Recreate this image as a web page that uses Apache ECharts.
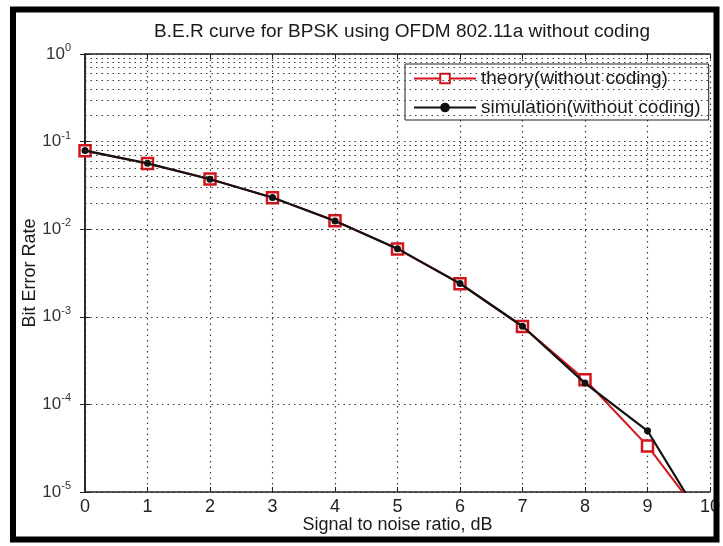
<!DOCTYPE html>
<html>
<head>
<meta charset="utf-8">
<script src="https://cdn.jsdelivr.net/npm/echarts@6/dist/echarts.min.js"></script>
<style>
html,body{margin:0;padding:0;background:#fff;}
#chart{width:723px;height:546px;}
</style>
</head>
<body>
<div id="chart"></div>
<script>
// ---- data ----
var snrDb = [0, 1, 2, 3, 4, 5, 6, 7, 8, 9, 10];
var berTheory = [0.0786, 0.0563, 0.0375, 0.0229, 0.0125, 0.00595, 0.00239, 0.000773, 0.000191, 0.0000336, 0.00000387];
var berSim    = [0.0790, 0.0565, 0.0372, 0.0230, 0.0124, 0.00600, 0.00240, 0.000780, 0.000175, 0.0000500, 0.0000034];
var xTickLabels = ['0','1','2','3','4','5','6','7','8','9','10'];
var yDecadeExponents = [0, -1, -2, -3, -4, -5];
var minorMultipliers = [2, 3, 4, 5, 6, 7, 8, 9];
var titleText = 'B.E.R curve for BPSK using OFDM 802.11a without coding';
var xName = 'Signal to noise ratio, dB';
var yName = 'Bit Error Rate';
var seriesNames = ['theory(without coding)', 'simulation(without coding)'];

// ---- derived ----
var theoryPts = snrDb.map(function (x, i) { return [x, berTheory[i]]; });
var simPts = snrDb.map(function (x, i) { return [x, berSim[i]]; });
var minorLines = [];
for (var d = 1; d < yDecadeExponents.length; d++) {
  var base = Math.pow(10, yDecadeExponents[d]);
  minorMultipliers.forEach(function (m) { minorLines.push({ yAxis: m * base }); });
}

var FONT = '"Liberation Sans", Arial, sans-serif';
var gridDot = { color: '#3a3a3a', width: 1.2, type: [1.5, 4] };

var chart = echarts.init(document.getElementById('chart'), null, { renderer: 'canvas' });
chart.setOption({
  backgroundColor: '#fff',
  animation: false,
  title: {
    text: titleText,
    left: 397, top: 17, textAlign: 'center',
    textStyle: { fontFamily: FONT, fontSize: 19, fontWeight: 'normal', color: '#1a1a1a' }
  },
  grid: { left: 85, right: 10, top: 54, bottom: 54 },
  legend: {
    data: seriesNames,
    orient: 'vertical',
    left: 405, top: 64,
    backgroundColor: '#fff',
    borderColor: '#222', borderWidth: 1,
    padding: [5, 8, 3, 8],
    itemWidth: 62, itemHeight: 12, itemGap: 10,
    textStyle: { fontFamily: FONT, fontSize: 19, color: '#1a1a1a' }
  },
  xAxis: [{
    type: 'value', min: 0, max: 10, interval: 1,
    name: xName, nameLocation: 'middle', nameGap: 24, nameMoveOverlap: false,
    nameTextStyle: { fontFamily: FONT, fontSize: 18, color: '#1a1a1a' },
    axisLine: { lineStyle: { color: '#222', width: 1.5 } },
    axisTick: { inside: true, length: 5, lineStyle: { color: '#222' } },
    axisLabel: { margin: 6, fontFamily: FONT, fontSize: 18, color: '#222',
      formatter: function (v) { return xTickLabels[Math.round(v)]; } },
    splitLine: { show: true, lineStyle: gridDot }
  }, {
    type: 'value', min: 0, max: 10, interval: 1, position: 'top',
    axisLine: { show: true, lineStyle: { color: '#222', width: 1.5 } },
    axisTick: { show: true, inside: true, length: 5, lineStyle: { color: '#222' } },
    axisLabel: { show: false }, splitLine: { show: false }
  }],
  yAxis: [{
    type: 'log', logBase: 10, min: 1e-5, max: 1,
    name: yName, nameLocation: 'middle', nameGap: 46, nameRotate: 90, nameMoveOverlap: false,
    nameTextStyle: { fontFamily: FONT, fontSize: 18, color: '#1a1a1a' },
    axisLine: { show: true, lineStyle: { color: '#222', width: 1.5 } },
    axisTick: { show: true, inside: true, length: 5, lineStyle: { color: '#222' } },
    axisLabel: {
      margin: 14,
      formatter: function (v) {
        var e = Math.round(Math.log10(v));
        if (yDecadeExponents.indexOf(e) < 0) return '';
        return '{b|10}{s|' + e + '}';
      },
      rich: {
        b: { fontFamily: FONT, fontSize: 17, color: '#333' },
        s: { fontFamily: FONT, fontSize: 11, color: '#333', padding: [0, 0, 12, 0] }
      }
    },
    splitLine: { show: true, lineStyle: gridDot }
  }, {
    type: 'log', logBase: 10, min: 1e-5, max: 1, position: 'right',
    axisLine: { show: true, lineStyle: { color: '#222', width: 1.5 } },
    axisTick: { show: true, inside: true, length: 5, lineStyle: { color: '#222' } },
    axisLabel: { show: false }, splitLine: { show: false }
  }],
  graphic: [{
    type: 'rect', silent: true, z: 100,
    shape: { x: 13, y: 9.5, width: 703.5, height: 530 },
    style: { fill: 'none', stroke: '#000', lineWidth: 6 }
  }],
  series: [{
    type: 'line', name: '_grid', data: [], z: 1, silent: true,
    markLine: {
      silent: true, symbol: ['none', 'none'], animation: false,
      label: { show: false },
      lineStyle: gridDot,
      data: minorLines
    }
  }, {
    type: 'line', name: seriesNames[0], data: theoryPts, z: 3, clip: true,
    lineStyle: { color: '#d4141c', width: 2 },
    itemStyle: { color: '#fff', borderColor: '#d4141c', borderWidth: 2.5 },
    symbol: 'rect', symbolSize: 11, showAllSymbol: true
  }, {
    type: 'line', name: seriesNames[1], data: simPts, z: 4, clip: true,
    lineStyle: { color: '#111', width: 2.2 },
    itemStyle: { color: '#111' },
    symbol: 'circle', symbolSize: 7, showAllSymbol: true
  }]
});
</script>
</body>
</html>
